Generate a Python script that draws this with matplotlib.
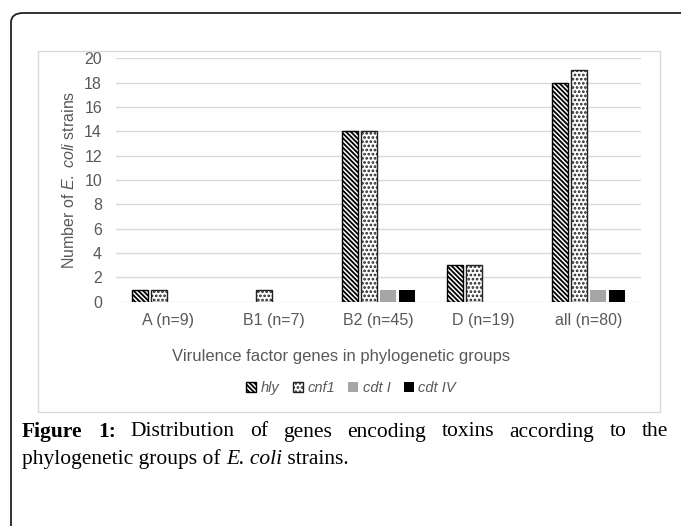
import matplotlib
matplotlib.use("Agg")
import matplotlib.pyplot as plt
import numpy as np
from matplotlib.patches import FancyBboxPatch, Rectangle, Patch

plt.rcParams['font.family'] = ['Liberation Sans', 'DejaVu Sans']
plt.rcParams['mathtext.fontset'] = 'custom'
plt.rcParams['mathtext.rm'] = 'Liberation Sans'
plt.rcParams['mathtext.it'] = 'Liberation Sans:italic'
plt.rcParams['hatch.linewidth'] = 1.3

categories = ["A (n=9)", "B1 (n=7)", "B2 (n=45)", "D (n=19)", "all (n=80)"]
series_names = ["hly", "cnf1", "cdt I", "cdt IV"]
hly = [1, 0, 14, 3, 18]
cnf1 = [1, 1, 14, 3, 19]
cdt1 = [0, 0, 1, 0, 1]
cdt4 = [0, 0, 1, 0, 1]
yticks = [0, 2, 4, 6, 8, 10, 12, 14, 16, 18, 20]

W, H = 681, 526
fig = plt.figure(figsize=(W / 100, H / 100), dpi=100)

def fx(px):
    return px / W

def fy(py):
    return 1 - py / H

# outer rounded frame (right/bottom clipped)
frame = FancyBboxPatch((fx(11), fy(560)), fx(720), fy(13) - fy(560),
                       boxstyle="round,pad=0,rounding_size=0.018",
                       transform=fig.transFigure, fill=False,
                       edgecolor='#222222', linewidth=1.3, clip_on=False)
fig.patches.append(frame)

# inner chart box
box = Rectangle((fx(38), fy(412)), fx(660) - fx(38), fy(51) - fy(412),
                transform=fig.transFigure, fill=False,
                edgecolor='#d9d9d9', linewidth=1.0)
fig.patches.append(box)

ax = fig.add_axes([fx(116), fy(301.7), fx(641) - fx(116), fy(58.3) - fy(301.7)])
x = np.arange(len(categories))
w = 0.145
styles = [
    dict(facecolor='white', edgecolor='black', hatch='\\\\\\\\\\\\\\', linewidth=1.0),
    dict(facecolor='white', edgecolor='#222222', hatch='....', linewidth=1.0),
    dict(facecolor='#a6a6a6', edgecolor='#a6a6a6', linewidth=0),
    dict(facecolor='black', edgecolor='black', linewidth=0),
]
offsets = [-0.272, -0.091, 0.091, 0.272]
for vals, off, st in zip([hly, cnf1, cdt1, cdt4], offsets, styles):
    bars = ax.bar(x + off, vals, width=w, zorder=3, **st)
    for b, v in zip(bars, vals):
        if v == 0:
            b.set_visible(False)

ax.set_xlim(-0.5, len(categories) - 0.5)
ax.set_ylim(0, 20)
ax.set_yticks(yticks)
ax.set_xticks(x)
ax.set_xticklabels(categories)
for s in ax.spines.values():
    s.set_visible(False)
ax.grid(axis='y', color='#d9d9d9', linewidth=1.0, zorder=0)
ax.set_axisbelow(True)
ax.tick_params(axis='both', length=0, colors='#595959', labelsize=11.5)
ax.tick_params(axis='x', pad=8)
ax.tick_params(axis='y', pad=10)

fig.text(fx(69), fy(180), r"Number of $\mathit{E.\ coli}$ strains", rotation=90,
         ha='center', va='center', color='#595959', fontsize=11.5)
fig.text(fx(341), fy(356), "Virulence factor genes in phylogenetic groups",
         ha='center', va='center', color='#595959', fontsize=12)

handles = [Patch(**styles[0]), Patch(**styles[1]), Patch(**styles[2]), Patch(**styles[3])]
leg = fig.legend(handles, series_names, loc='center', bbox_to_anchor=(fx(351), fy(388)),
                 ncol=4, frameon=False, handlelength=0.7, handleheight=0.7,
                 handletextpad=0.3, columnspacing=0.9, prop=dict(size=10.5, style='italic'))
for t in leg.get_texts():
    t.set_color('#595959')

# caption with justified first line
fig.canvas.draw()
renderer = fig.canvas.get_renderer()
serif = ['Liberation Serif', 'DejaVu Serif']
cap_size = 15.5

def measure(s, weight='normal', style='normal'):
    t = fig.text(0, 0, s, fontsize=cap_size, family=serif, weight=weight, style=style)
    bb = t.get_window_extent(renderer)
    t.remove()
    return bb.width

line1 = [("Figure", 'bold', 'normal'), ("1:", 'bold', 'normal'),
         ("Distribution", 'normal', 'normal'), ("of", 'normal', 'normal'),
         ("genes", 'normal', 'normal'), ("encoding", 'normal', 'normal'),
         ("toxins", 'normal', 'normal'), ("according", 'normal', 'normal'),
         ("to", 'normal', 'normal'), ("the", 'normal', 'normal')]
x0, x1 = 22, 668
widths = [measure(wd, we, st) for wd, we, st in line1]
gap = (x1 - x0 - sum(widths)) / (len(line1) - 1)
cx = x0
for (wd, we, st), wi in zip(line1, widths):
    fig.text(fx(cx), fy(432), wd, fontsize=cap_size, family=serif, weight=we,
             style=st, va='center', ha='left', color='black')
    cx += wi + gap

line2 = [("phylogenetic groups of ", 'normal', 'normal'), ("E. coli", 'normal', 'italic'),
         (" strains.", 'normal', 'normal')]
cx = x0
for wd, we, st in line2:
    fig.text(fx(cx), fy(459), wd, fontsize=cap_size, family=serif, weight=we,
             style=st, va='center', ha='left', color='black')
    cx += measure(wd, we, st)

fig.savefig("out.png", dpi=100)
